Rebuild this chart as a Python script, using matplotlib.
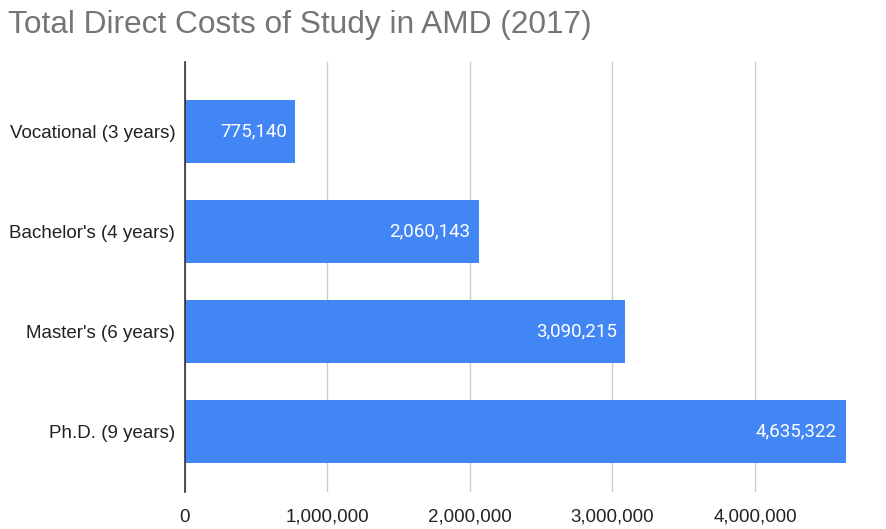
import matplotlib.pyplot as plt
from matplotlib.ticker import FuncFormatter

categories = ["Vocational (3 years)", "Bachelor's (4 years)", "Master's (6 years)", "Ph.D. (9 years)"]
costs = [775140, 2060143, 3090215, 4635322]
xticks = [0, 1000000, 2000000, 3000000, 4000000]

fig = plt.figure(figsize=(8.86, 5.29), dpi=100)
ax = fig.add_axes([0.2088, 0.070, 0.772, 0.8128])

bars = ax.barh(range(len(categories)), costs, height=0.63, color="#4285F4", zorder=3)
for b, v in zip(bars, costs):
    ax.text(b.get_width() - 60000, b.get_y() + b.get_height() / 2, f"{v:,}",
            ha="right", va="center", color="white", fontsize=13.5, family="Roboto", zorder=4)

ax.set_ylim(3.6, -0.69)
ax.set_xlim(0, 4.8e6)
ax.set_yticks(range(len(categories)))
ax.set_yticklabels(categories, family="Liberation Sans", fontsize=13.5, color="#222222")
ax.set_xticks(xticks)
ax.xaxis.set_major_formatter(FuncFormatter(lambda x, p: f"{int(x):,}"))
for lbl in ax.get_xticklabels():
    lbl.set_family("Liberation Sans")
    lbl.set_fontsize(13.5)
    lbl.set_color("#222222")
ax.tick_params(length=0)
ax.tick_params(axis="y", pad=7)
ax.tick_params(axis="x", pad=12)

ax.grid(axis="x", color="#cccccc", linewidth=1, zorder=0)
for s in ["top", "right", "bottom"]:
    ax.spines[s].set_visible(False)
ax.spines["left"].set_color("#333333")
ax.spines["left"].set_linewidth(1.2)
ax.spines["left"].set_zorder(5)

fig.text(0.009, 0.952, "Total Direct Costs of Study in AMD (2017)", family="Liberation Sans",
         fontsize=22.8, color="#757575", ha="left", va="center")

fig.savefig("out.png", dpi=100)
